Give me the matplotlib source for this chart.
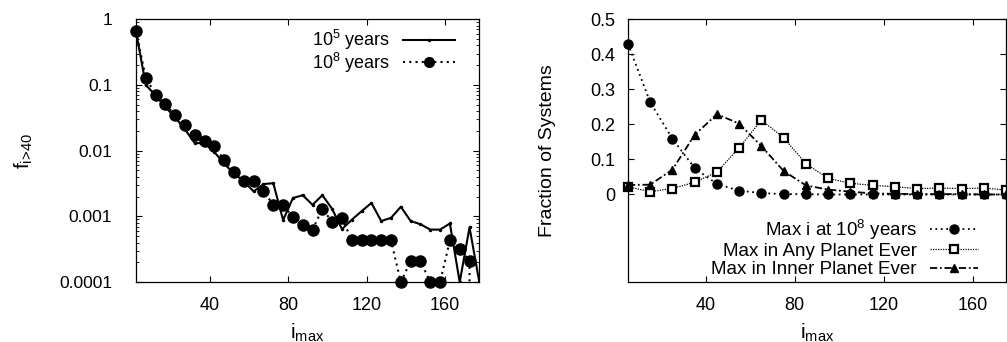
import numpy as np
import matplotlib
matplotlib.use("Agg")
import matplotlib.pyplot as plt
from matplotlib.ticker import FixedLocator, FuncFormatter, LogLocator, NullFormatter

plt.rcParams['font.family'] = ['Liberation Sans', 'DejaVu Sans']
plt.rcParams['mathtext.default'] = 'regular'
plt.rcParams['font.size'] = 13

# left panel: fraction with i > 40, bins of 5 degrees
imax_left = np.arange(2.5, 180, 5)
f_1e5 = [0.66, 0.10, 0.069, 0.046, 0.032, 0.021, 0.013, 0.013, 0.0095, 0.0063,
         0.0045, 0.0034, 0.0024, 0.0031, 0.0032, 0.00088, 0.0019, 0.0021, 0.0015, 0.0021,
         0.0013, 0.00064, 0.00089, 0.0012, 0.0016, 0.00085, 0.00095, 0.0014, 0.00085, 0.00076,
         0.00063, 0.00063, 0.00078, 0.0001, 0.00068, 0.0001]
f_1e8 = [0.66, 0.129, 0.071, 0.051, 0.0345, 0.0243, 0.0173, 0.0141, 0.0116, 0.0071,
         0.0048, 0.0034, 0.0034, 0.0024, 0.0015, 0.0015, 0.00097, 0.00074, 0.00063, 0.0013,
         0.00083, 0.00095, 0.00043, 0.00043, 0.00043, 0.00043, 0.00043, 0.0001, 0.00021, 0.00021,
         0.0001, 0.0001, 0.00043, 0.00032, 0.00021, 0.0]

# right panel: distribution of max inclination, bins of 10 degrees
imax_right = np.arange(5, 180, 10)
max_i_1e8 = [0.430, 0.263, 0.159, 0.075, 0.030, 0.011, 0.004, 0.001, 0.001,
             0.0, 0.0, 0.0, 0.0, 0.0, 0.0, 0.0, 0.0, 0.0]
max_any = [0.022, 0.008, 0.017, 0.035, 0.064, 0.133, 0.212, 0.162, 0.088,
           0.046, 0.032, 0.026, 0.022, 0.017, 0.018, 0.017, 0.018, 0.013]
max_inner = [0.027, 0.028, 0.071, 0.170, 0.229, 0.202, 0.138, 0.067, 0.026,
             0.014, 0.008, 0.003, 0.002, 0.001, 0.001, 0.001, 0.0, 0.0]

fig = plt.figure(figsize=(10.07, 3.42), dpi=100)
ax1 = fig.add_axes([0.135, 0.175, 0.341, 0.769])
ax2 = fig.add_axes([0.6236, 0.175, 0.3754, 0.769])

for ax in (ax1, ax2):
    ax.tick_params(direction='in', which='both', top=True, right=True)
    ax.tick_params(which='major', length=4.5, width=0.8)
    ax.tick_params(which='minor', length=2.5, width=0.6)
    for s in ax.spines.values():
        s.set_linewidth(0.9)

# ---- left
ax1.set_yscale('log')
ax1.plot(imax_left, f_1e5, color='k', lw=1.5, marker='.', ms=3, label='10$^{5}$ years')
f8 = np.array(f_1e8)
ax1.plot(imax_left, f8, color='k', lw=1.5, ls=(0, (1, 2)))
ax1.plot(imax_left[f8 > 0], f8[f8 > 0], color='k', ls='none', marker='o', ms=8, clip_on=False)
ax1.plot([], [], color='k', lw=1.5, ls=(0, (1, 2)), marker='o', ms=7, label='10$^{8}$ years')
ax1.set_xlim(2.5, 177.5)
ax1.set_ylim(1e-4, 1)
ax1.xaxis.set_major_locator(FixedLocator([40, 80, 120, 160]))
ax1.yaxis.set_major_formatter(FuncFormatter(lambda v, p: '%g' % v))
ax1.yaxis.set_minor_locator(LogLocator(base=10, subs=np.arange(2, 10)))
ax1.yaxis.set_minor_formatter(NullFormatter())
ax1.tick_params(axis='y', which='major', pad=17, labelsize=12.5)
ax1.tick_params(axis='x', which='major', pad=11, labelsize=13)
ax1.set_xlabel('i$_{max}$', fontsize=15)
ax1.set_ylabel(r'f$_{i\!>\!40}$', fontsize=15)
ax1.xaxis.set_label_coords(0.5, -0.15)
ax1.yaxis.set_label_coords(-0.295, 0.5)
h, l = ax1.get_legend_handles_labels()
ax1.legend(h, l, loc='upper right', bbox_to_anchor=(0.956, 1.0), frameon=False,
           markerfirst=False, borderpad=0, labelspacing=-0.1, handlelength=2.9,
           handletextpad=0.7, fontsize=13)

# ---- right
ax2.plot(imax_right, max_i_1e8, color='k', lw=1.3, ls=(0, (1, 2)), marker='o', ms=6.5,
         clip_on=False, label='Max i at 10$^{8}$ years')
ax2.plot(imax_right, max_any, color='k', lw=0.9, ls=(0, (1, 1)), marker='s', ms=6,
         mfc='white', mec='k', mew=1.6, clip_on=False, label='Max in Any Planet Ever')
ax2.plot(imax_right, max_inner, color='k', lw=1.3, ls=(0, (4, 1.5, 1, 1.5)), marker='^',
         ms=6, clip_on=False, label='Max in Inner Planet Ever')
ax2.set_xlim(5, 175)
ax2.set_ylim(-0.25, 0.5)
ax2.xaxis.set_major_locator(FixedLocator([40, 80, 120, 160]))
ax2.yaxis.set_major_locator(FixedLocator([0, 0.1, 0.2, 0.3, 0.4, 0.5]))
ax2.yaxis.set_major_formatter(FuncFormatter(lambda v, p: '%g' % v))
ax2.tick_params(axis='y', which='major', pad=9, labelsize=13)
ax2.tick_params(axis='x', which='major', pad=11, labelsize=13)
ax2.set_xlabel('i$_{max}$', fontsize=15)
ax2.set_ylabel('Fraction of Systems', fontsize=14)
ax2.xaxis.set_label_coords(0.5, -0.15)
ax2.yaxis.set_label_coords(-0.19, 0.5)
ax2.legend(loc='upper right', bbox_to_anchor=(0.952, 0.28), frameon=False,
           markerfirst=False, borderpad=0, labelspacing=0.05, handlelength=2.6,
           handletextpad=0.7, fontsize=13.5)

fig.savefig('out.png', dpi=100)
